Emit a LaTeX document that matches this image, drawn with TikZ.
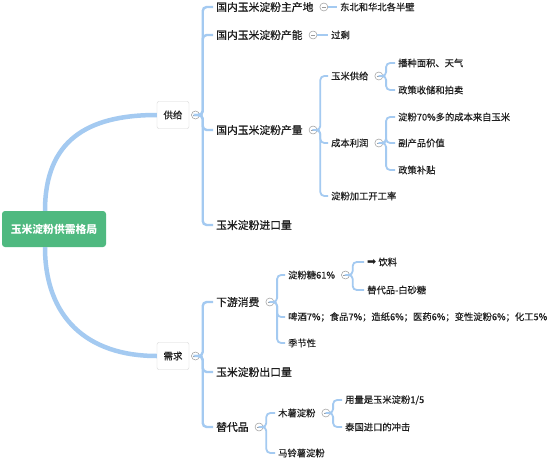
\documentclass[tikz,border=0pt]{standalone}
\usepackage{fontspec}
\setmainfont{Noto Sans CJK SC}
\newfontfamily\heavy[FakeBold=0.55]{Noto Sans CJK SC}
\newfontfamily\plain[FakeBold=0.2]{Noto Sans CJK SC}
\newfontfamily\symfont{DejaVu Sans}
\usepackage{xcolor}
\usetikzlibrary{positioning}
\definecolor{mint}{HTML}{4FB980}
\definecolor{sky}{HTML}{A4CAF1}
\definecolor{frame}{HTML}{D6D6D6}
\definecolor{txt}{HTML}{1E1E1E}
\definecolor{knobgray}{HTML}{9A9A9A}
\tikzset{
  rootbox/.style={fill=mint,rounded corners=3pt,text=white,font=\fontsize{10.8}{12}\selectfont\bfseries,minimum width=104pt,minimum height=36pt,inner sep=0pt},
  topbox/.style={draw=frame,fill=white,rounded corners=2pt,font=\plain\fontsize{9.5}{11}\selectfont,minimum width=32pt,minimum height=27pt,inner sep=0pt,text=txt},
  main/.style={anchor=west,inner xsep=3pt,inner ysep=1pt,font=\heavy\fontsize{10.8}{12}\selectfont,text=txt},
  leaf/.style={anchor=west,inner xsep=3pt,inner ysep=1pt,font=\plain\fontsize{9.3}{11}\selectfont,text=txt},
  knob/.style={circle,draw=knobgray,fill=white,minimum size=8pt,inner sep=0pt,line width=0.5pt,
    path picture={\draw[knobgray,line width=0.5pt] ([xshift=-2pt]path picture bounding box.center) -- ([xshift=2pt]path picture bounding box.center);}},
  trunk/.style={draw=sky,line width=4.5pt},
  branch/.style={draw=sky,line width=2.4pt,rounded corners=4pt},
  twig/.style={draw=sky,line width=1.8pt,rounded corners=4pt},
}
\begin{document}
\begin{tikzpicture}[x=1pt,y=-1pt]
  \useasboundingbox (0,0) rectangle (554,460);
  \fill[white] (0,0) rectangle (554,460);
  % centre and the two halves
  \node[rootbox] (root) at (54,229) {玉米淀粉供需格局};
  \node[topbox] (sup) at (173,115) {供给};
  \node[topbox] (dem) at (173,356) {需求};
  \draw[trunk] ([xshift=-9pt]root.north) .. controls +(0,-70) and +(-70,0) .. (sup.west);
  \draw[trunk] ([xshift=-9pt]root.south) .. controls +(0,70) and +(-70,0) .. (dem.west);
  \node[knob,right=2pt of sup] (ksup) {};
  \node[knob,right=2pt of dem] (kdem) {};
  % supply side
  \node[main] (place) at (213,7) {国内玉米淀粉主产地};
  \node[main] (cap) at (213,35) {国内玉米淀粉产能};
  \node[main] (out) at (213,130) {国内玉米淀粉产量};
  \node[main] (imp) at (213,225) {玉米淀粉进口量};
  \foreach \c in {place,cap,out,imp} \draw[branch] (ksup.east) -- ++(3,0) |- (\c.west);
  \node[knob,right=3pt of place] (kplace) {};
  \node[leaf] (place1) at (337,7) {东北和华北各半壁};
  \draw[twig] (kplace.east) -- (place1.west);
  \node[knob,right=3pt of cap] (kcap) {};
  \node[leaf] (cap1) at (328,35) {过剩};
  \draw[twig] (kcap.east) -- (cap1.west);
  \node[knob,right=3pt of out] (kout) {};
  \node[leaf] (corn) at (328,76) {玉米供给};
  \node[leaf] (cost) at (328,143) {成本利润};
  \node[leaf] (rate) at (328,196) {淀粉加工开工率};
  \foreach \c in {corn,cost,rate} \draw[twig] (kout.east) -- ++(3,0) |- (\c.west);
  \node[knob,right=3pt of corn] (kcorn) {};
  \node[leaf] (corn1) at (395,63) {播种面积、天气};
  \node[leaf] (corn2) at (395,90) {政策收储和拍卖};
  \foreach \c in {corn1,corn2} \draw[twig] (kcorn.east) -- ++(3,0) |- (\c.west);
  \node[knob,right=3pt of cost] (kcost) {};
  \node[leaf] (cost1) at (395,117) {淀粉70\%多的成本来自玉米};
  \node[leaf] (cost2) at (395,143) {副产品价值};
  \node[leaf] (cost3) at (395,170) {政策补贴};
  \foreach \c in {cost1,cost2,cost3} \draw[twig] (kcost.east) -- ++(3,0) |- (\c.west);
  % demand side
  \node[main] (down) at (213,302) {下游消费};
  \node[main] (exp) at (213,372) {玉米淀粉出口量};
  \node[main] (subst) at (213,427) {替代品};
  \foreach \c in {down,exp,subst} \draw[branch] (kdem.east) -- ++(3,0) |- (\c.west);
  \node[knob,right=3pt of down] (kdown) {};
  \node[leaf] (sugar) at (285,275) {淀粉糖61\%};
  \node[leaf] (other) at (285,317) {啤酒7\%；食品7\%；造纸6\%；医药6\%；变性淀粉6\%；化工5\%};
  \node[leaf] (season) at (285,343) {季节性};
  \foreach \c in {sugar,other,season} \draw[twig] (kdown.east) -- ++(3,0) |- (\c.west);
  \node[knob,right=3pt of sugar] (ksugar) {};
  \node[leaf] (drink) at (364,262) {{\symfont\fontsize{11}{11}\selectfont ➡}\ 饮料};
  \node[leaf] (cane) at (364,290) {替代品-白砂糖};
  \foreach \c in {drink,cane} \draw[twig] (ksugar.east) -- ++(3,0) |- (\c.west);
  \node[knob,right=3pt of subst] (ksubst) {};
  \node[leaf] (cassava) at (275,413) {木薯淀粉};
  \node[leaf] (potato) at (275,453) {马铃薯淀粉};
  \foreach \c in {cassava,potato} \draw[twig] (ksubst.east) -- ++(3,0) |- (\c.west);
  \node[knob,right=3pt of cassava] (kcassava) {};
  \node[leaf] (use) at (342,400) {用量是玉米淀粉1/5};
  \node[leaf] (thai) at (342,427) {泰国进口的冲击};
  \foreach \c in {use,thai} \draw[twig] (kcassava.east) -- ++(3,0) |- (\c.west);
\end{tikzpicture}
\end{document}
